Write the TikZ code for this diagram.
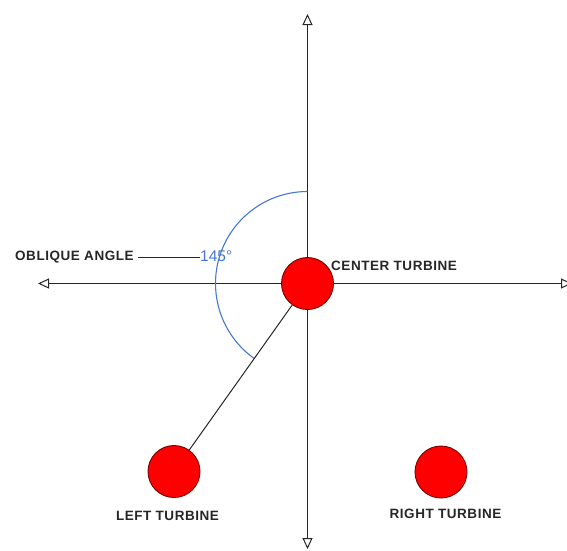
\documentclass[tikz,border=0pt]{standalone}
\usepackage{fontspec}
\setmainfont{Liberation Sans}
\newfontfamily\labfont[LetterSpace=4]{Liberation Sans}
\usetikzlibrary{arrows.meta}
\definecolor{turbred}{RGB}{255,0,0}
\definecolor{turbedge}{RGB}{120,0,0}
\definecolor{angblue}{RGB}{70,120,210}
\begin{document}
\begin{tikzpicture}[x=1pt,y=-1pt,
  turbine/.style={circle,fill=turbred,draw=turbedge,line width=0.9pt,minimum size=52pt,inner sep=0pt},
  axis/.style={draw=black!85,line width=1.2pt,-{Triangle[open,length=11pt,width=10pt,line width=1pt]}},
  lab/.style={font=\labfont\bfseries\fontsize{13.5}{15}\selectfont,text=black!85,inner sep=0pt},
  anglab/.style={font=\fontsize{15.5}{17}\selectfont,text=angblue,inner sep=0pt}]
\useasboundingbox (0,0) rectangle (567,550);
\coordinate (o) at (307.5,283.5);
\coordinate (top) at (307.5,14);
\coordinate (bot) at (307.5,549);
\coordinate (lft) at (38,283.5);
\coordinate (rgt) at (572,283.5);
\draw[axis] (o) -- (top);
\draw[axis] (o) -- (bot);
\draw[axis] (o) -- (lft);
\draw[axis] (o) -- (rgt);
% angle arc
\draw[angblue,line width=1.1pt] (307.5,191.5) arc[start angle=-90,end angle=-234.7,radius=92];
\node[turbine] (c) at (o) {};
\node[turbine] (lt) at (174,471.5) {};
\node[turbine] (rt) at (441,472) {};
\draw[black!85,line width=1pt] (c) -- (lt);
\node[lab,anchor=west] (cl) at (331,266) {CENTER TURBINE};
\node[lab] (ll) at (167.5,515.5) {LEFT TURBINE};
\node[lab] (rl) at (445.5,513.5) {RIGHT TURBINE};
\node[lab,anchor=west] (ol) at (15,257.5) {OBLIQUE ANGLE};
\node[anglab,anchor=west] (al) at (200,256) {145\textdegree};
\coordinate (olx) at ([xshift=4pt]ol.east);
\draw[black!85,line width=1pt] (olx) -- (olx -| al.west);
\end{tikzpicture}
\end{document}
